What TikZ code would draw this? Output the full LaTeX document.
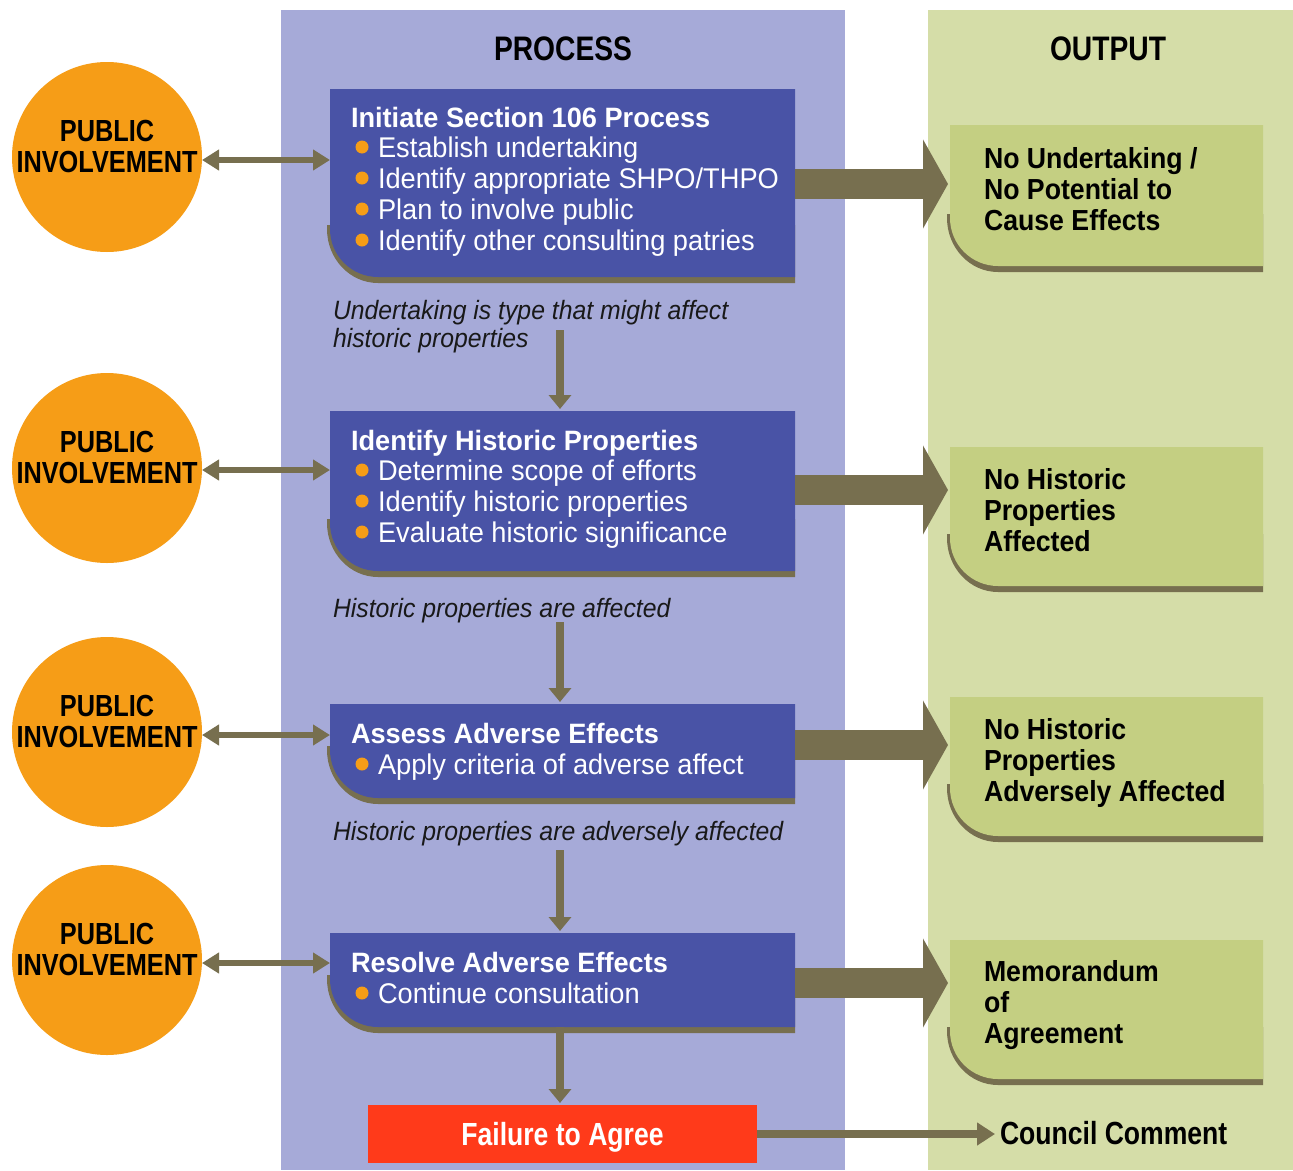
\documentclass[tikz,border=0pt]{standalone}
\usepackage{fontspec}
\setmainfont{Liberation Sans}
\newfontfamily\fA{Liberation Sans}[FakeStretch=0.92]
\newfontfamily\fC{Liberation Sans}[FakeStretch=0.955]
\newfontfamily\fD{Liberation Sans}[FakeStretch=0.935]
\newfontfamily\fB{Liberation Sans}[FakeStretch=0.83]
\newfontfamily\fT{Liberation Sans}[FakeStretch=0.97]
\usetikzlibrary{arrows.meta}
\definecolor{lav}{RGB}{166,170,216}
\definecolor{pale}{RGB}{213,221,168}
\definecolor{boxblue}{RGB}{73,83,166}
\definecolor{olivec}{RGB}{119,111,79}
\definecolor{orangec}{RGB}{246,157,23}
\definecolor{greenbox}{RGB}{196,207,130}
\definecolor{redc}{RGB}{255,58,26}
\newcommand\tagbox[2]{%
  \fill[olivec] ([xshift=-3pt,yshift=52pt]#1.south west) -- ([yshift=52pt]#1.south east) -- ([yshift=-6pt]#1.south east) -- ([xshift=48pt,yshift=-6pt]#1.south west) arc[start angle=270,end angle=180,x radius=51pt,y radius=54pt] -- cycle;
  \fill[#2] (#1.north west) -- (#1.north east) -- (#1.south east) -- ([xshift=48pt]#1.south west) arc[start angle=270,end angle=180,radius=48pt] -- cycle;}
\newcommand\bulletline[3]{%
  \fill[orangec] (362,#2-10) circle[radius=6.5pt];
  \node[bul] (#1) at (378,#2) {#3};}
\tikzset{
  txt/.style={inner sep=0pt, outer sep=0pt, anchor=base west},
  ttl/.style={txt, text=white, font=\fT\bfseries\fontsize{28}{30}\selectfont},
  bul/.style={txt, text=white, font=\fC\fontsize{28.5}{30}\selectfont},
  outt/.style={txt, text=black, font=\fA\bfseries\fontsize{29}{30}\selectfont},
  itl/.style={txt, text=black!90, font=\fD\itshape\fontsize{26.5}{30}\selectfont},
  pub/.style={inner sep=0pt, anchor=base, text=black, font=\fB\bfseries\fontsize{30.5}{30}\selectfont},
  head/.style={inner sep=0pt, anchor=base, text=black, font=\fB\bfseries\fontsize{34}{36}\selectfont},
  geom/.style={inner sep=0pt, outer sep=0pt, draw=none, anchor=north west},
  circ/.style={circle, fill=orangec, minimum size=190pt, inner sep=0pt, outer sep=0pt},
  dbl/.style={olivec, line width=6pt, {Triangle[length=17pt,width=20pt]}-{Triangle[length=17pt,width=20pt]}},
  down/.style={olivec, line width=8pt, -{Triangle[length=14pt,width=22pt]}, shorten >=2pt},
  fat/.style={olivec, line width=30pt, -{Triangle[length=25pt,width=88pt]}, shorten >=2pt},
  thin/.style={olivec, line width=8pt, -{Triangle[length=18pt,width=22pt]}, shorten >=5pt},
}
\begin{document}
\begin{tikzpicture}[x=1pt,y=-1pt]
\useasboundingbox (0,0) rectangle (1293,1170);
\fill[white] (0,0) rectangle (1293,1170);
\fill[lav] (281,10) rectangle (845,1170);
\fill[pale] (928,10) rectangle (1293,1170);
% headings
\node[head] (hp) at (563,60) {PROCESS};
\node[head] (ho) at (1108,60) {OUTPUT};
% geometry nodes
\node[geom, minimum width=465pt, minimum height=188pt] (p1) at (330,89) {};
\node[geom, minimum width=465pt, minimum height=160pt] (p2) at (330,411) {};
\node[geom, minimum width=465pt, minimum height=94pt] (p3) at (330,704) {};
\node[geom, minimum width=465pt, minimum height=94pt] (p4) at (330,933) {};
\node[geom, minimum width=313pt, minimum height=141pt] (o1) at (950,125) {};
\node[geom, minimum width=313pt, minimum height=139pt] (o2) at (950,447) {};
\node[geom, minimum width=313pt, minimum height=139pt] (o3) at (950,697) {};
\node[geom, minimum width=313pt, minimum height=139pt] (o4) at (950,940) {};
% circles
\node[circ] (c1) at (107,157) {};
\node[circ] (c2) at (107,468) {};
\node[circ] (c3) at (107,732) {};
\node[circ] (c4) at (107,960) {};
\foreach \i/\cy in {1/157,2/468,3/732,4/960}{
  \node[pub] (pa\i) at (107,\cy-16) {PUBLIC};
  \node[pub] (pb\i) at (107,\cy+15) {INVOLVEMENT};
}
% boxes
\tagbox{p1}{boxblue}
\tagbox{p2}{boxblue}
\tagbox{p3}{boxblue}
\tagbox{p4}{boxblue}
\tagbox{o1}{greenbox}
\tagbox{o2}{greenbox}
\tagbox{o3}{greenbox}
\tagbox{o4}{greenbox}
% double arrows
\draw[dbl] (c1.east |- 0,160) -- (p1.west |- 0,160);
\draw[dbl] (c2.east |- 0,470) -- (p2.west |- 0,470);
\draw[dbl] (c3.east |- 0,735) -- (p3.west |- 0,735);
\draw[dbl] (c4.east |- 0,963) -- (p4.west |- 0,963);
% fat arrows
\draw[fat] (p1.east |- 0,184) -- (o1.west |- 0,184);
\draw[fat] (p2.east |- 0,490) -- (o2.west |- 0,490);
\draw[fat] (p3.east |- 0,745) -- (o3.west |- 0,745);
\draw[fat] (p4.east |- 0,983) -- (o4.west |- 0,983);
% process texts
\node[ttl] (t1) at (351,127) {Initiate Section 106 Process};
\bulletline{b11}{157}{Establish undertaking}
\bulletline{b12}{188}{Identify appropriate SHPO/THPO}
\bulletline{b13}{219}{Plan to involve public}
\bulletline{b14}{250}{Identify other consulting patries}
\node[ttl] (t2) at (351,450) {Identify Historic Properties};
\bulletline{b21}{480}{Determine scope of efforts}
\bulletline{b22}{511}{Identify historic properties}
\bulletline{b23}{542}{Evaluate historic significance}
\node[ttl] (t3) at (351,743) {Assess Adverse Effects};
\bulletline{b31}{774}{Apply criteria of adverse affect}
\node[ttl] (t4) at (351,972) {Resolve Adverse Effects};
\bulletline{b41}{1003}{Continue consultation}
% italic labels
\node[itl] (l1a) at (333,319) {Undertaking is type that might affect};
\node[itl] (l1b) at (333,347) {historic properties};
\node[itl] (l2) at (333,617) {Historic properties are affected};
\node[itl] (l3) at (333,840) {Historic properties are adversely affected};
% vertical arrows
\coordinate (v1) at (560,330);
\coordinate (v2) at (560,622);
\coordinate (v3) at (560,850);
\draw[down] (v1) -- (v1 |- p2.north);
\draw[down] (v2) -- (v2 |- p3.north);
\draw[down] (v3) -- (v3 |- p4.north);
% failure
\node[geom, fill=redc, minimum width=389pt, minimum height=58pt, text height=23pt, text depth=0pt, text=white, font=\fB\bfseries\fontsize{32}{34}\selectfont] (fail) at (368,1105) {Failure to Agree};
\draw[down] (p4.south -| v3) -- (fail.north -| v3);
% output texts
\node[outt] (o1a) at (984,168) {No Undertaking /};
\node[outt] (o1b) at (984,199) {No Potential to};
\node[outt] (o1c) at (984,230) {Cause Effects};
\node[outt] (o2a) at (984,489) {No Historic};
\node[outt] (o2b) at (984,520) {Properties};
\node[outt] (o2c) at (984,551) {Affected};
\node[outt] (o3a) at (984,739) {No Historic};
\node[outt] (o3b) at (984,770) {Properties};
\node[outt] (o3c) at (984,801) {Adversely Affected};
\node[outt] (o4a) at (984,981) {Memorandum};
\node[outt] (o4b) at (984,1012) {of};
\node[outt] (o4c) at (984,1043) {Agreement};
\node[txt, text=black, font=\fB\bfseries\fontsize{32}{34}\selectfont] (council) at (1000,1144) {Council Comment};
\draw[thin] (fail.east) -- (fail.east -| council.west);
\end{tikzpicture}
\end{document}
